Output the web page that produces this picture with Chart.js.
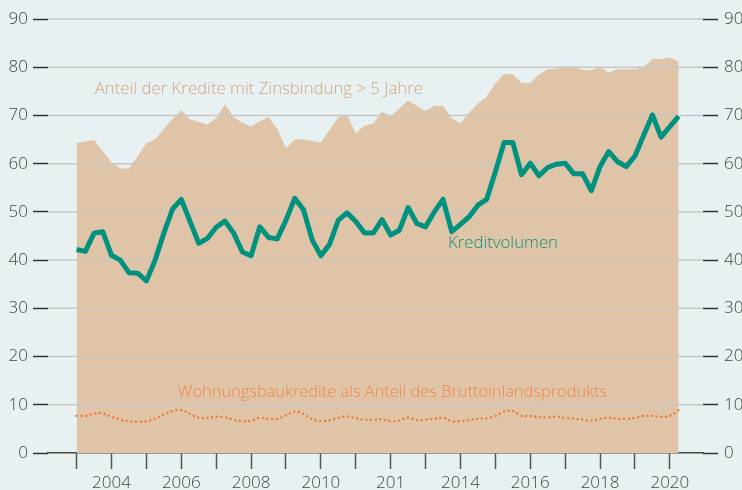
<!DOCTYPE html>
<html lang="de">
<head>
<meta charset="utf-8">
<title>Kredite</title>
<script src="https://cdn.jsdelivr.net/npm/chart.js@4.4.1/dist/chart.umd.min.js"></script>
<style>
  body { margin: 0; background: #e8f1f2; }
  #contenedor { position: relative; width: 742px; height: 490px; }
</style>
</head>
<body>
<div id="contenedor"><canvas id="grafico"></canvas></div>
<script>
// Datos trimestrales, 2003 T1 hasta 2020 T2
const anioInicio = 2003;

const anteilZinsbindung = [
  64.3, 64.6, 64.9, 62.6, 60.3, 59.0, 59.0, 61.5, 64.3, 65.0,
  67.2, 69.3, 71.1, 69.2, 68.7, 68.1, 69.4, 72.3, 69.6, 68.5,
  67.7, 68.8, 69.6, 67.2, 63.2, 65.0, 65.0, 64.7, 64.4, 67.0,
  69.6, 70.1, 66.3, 67.9, 68.3, 70.8, 69.8, 71.5, 73.1, 72.0,
  70.9, 72.0, 72.0, 69.4, 68.4, 70.6, 72.5, 73.9, 76.7, 78.6,
  78.5, 76.8, 76.7, 78.5, 79.6, 79.7, 80.2, 80.1, 79.4, 79.4,
  80.0, 78.9, 79.6, 79.6, 79.6, 80.0, 81.7, 81.7, 82.0, 81.2
];

const kreditvolumen = [
  42.2, 41.8, 45.6, 45.9, 41.0, 40.0, 37.4, 37.3, 35.7, 40.0,
  45.6, 50.6, 52.6, 48.0, 43.5, 44.5, 46.8, 48.1, 45.6, 41.7,
  40.9, 46.9, 44.7, 44.4, 48.3, 52.8, 50.5, 44.2, 40.9, 43.3,
  48.3, 49.8, 48.0, 45.6, 45.6, 48.4, 45.2, 46.2, 50.9, 47.6,
  46.9, 50.0, 52.6, 45.9, 47.4, 49.0, 51.4, 52.6, 58.3, 64.4,
  64.4, 57.7, 60.1, 57.5, 59.2, 59.9, 60.1, 57.9, 57.9, 54.4,
  59.4, 62.5, 60.4, 59.4, 61.6, 65.9, 70.1, 65.5, 67.7, 69.8
];

const wohnungsbauBip = [
  7.7, 7.7, 8.2, 8.2, 7.5, 6.9, 6.6, 6.5, 6.6, 7.1,
  8.0, 8.7, 8.9, 8.1, 7.3, 7.3, 7.5, 7.4, 6.9, 6.6,
  6.7, 7.3, 7.1, 7.1, 7.8, 8.6, 8.1, 7.0, 6.6, 6.8,
  7.3, 7.6, 7.2, 6.9, 6.9, 7.0, 6.6, 6.8, 7.3, 6.8,
  6.9, 7.1, 7.3, 6.6, 6.6, 6.8, 7.1, 7.2, 7.7, 8.6,
  8.7, 7.7, 7.7, 7.4, 7.4, 7.5, 7.3, 7.1, 6.9, 6.7,
  7.1, 7.3, 7.1, 7.1, 7.3, 7.7, 7.7, 7.5, 7.7, 8.9
];

// Marcas del eje x (una por año) y sus etiquetas
const aniosMarcas = [2003, 2004, 2005, 2006, 2007, 2008, 2009, 2010, 2011,
  2012, 2013, 2014, 2015, 2016, 2017, 2018, 2019, 2020];
const aniosEtiquetas = [2004, 2006, 2008, 2010, 2012, 2014, 2016, 2018, 2020];
const textosEtiquetas = ["2004", "2006", "2008", "2010", "201", "2014", "2016", "2018", "2020"];
const valoresEjeY = [0, 10, 20, 30, 40, 50, 60, 70, 80, 90];

function aPuntos(serie) {
  return serie.map((v, i) => ({ x: anioInicio + i / 4, y: v }));
}

const fuente = "'Open Sans', 'DejaVu Sans', sans-serif";

// Líneas de la cuadrícula encima del área
const pluginCuadricula = {
  id: "cuadricula",
  afterDatasetDraw(chart, args) {
    if (args.index !== 0) return;
    const { ctx, chartArea, scales } = chart;
    ctx.save();
    ctx.strokeStyle = "#c6c7c7";
    ctx.lineWidth = 1.5;
    valoresEjeY.forEach((v) => {
      if (v === 0) return;
      const y = scales.y.getPixelForValue(v);
      ctx.beginPath();
      ctx.moveTo(chartArea.left, y);
      ctx.lineTo(chartArea.right, y);
      ctx.stroke();
    });
    ctx.restore();
  }
};

// Textos dentro del gráfico
const pluginTextos = {
  id: "textos",
  afterDatasetsDraw(chart) {
    const { ctx, scales } = chart;
    const textos = [
      { t: "Anteil der Kredite mit Zinsbindung > 5 Jahre", x: 2003.52, y: 75.5, c: "#d3a67e", s: 16.8 },
      { t: "Kreditvolumen", x: 2013.64, y: 43.5, c: "#12917f", s: 16.8 },
      { t: "Wohnungsbaukredite als Anteil des Bruttoinlandsprodukts", x: 2005.9, y: 12.6, c: "#f0874a", s: 16.4 }
    ];
    ctx.save();
    ctx.textBaseline = "middle";
    ctx.textAlign = "left";
    textos.forEach((o) => {
      ctx.font = "300 " + o.s + "px " + fuente;
      ctx.fillStyle = o.c;
      ctx.fillText(o.t, scales.x.getPixelForValue(o.x), scales.y.getPixelForValue(o.y));
    });
    ctx.restore();
  }
};

const ctx = document.getElementById("grafico").getContext("2d");
const grafico = new Chart(ctx, {
  type: "line",
  data: {
    datasets: [
      {
        label: "Anteil der Kredite mit Zinsbindung > 5 Jahre",
        data: aPuntos(anteilZinsbindung),
        backgroundColor: "#dfc4a7",
        borderWidth: 0,
        pointRadius: 0,
        fill: "origin",
        order: 3
      },
      {
        label: "Kreditvolumen",
        data: aPuntos(kreditvolumen),
        borderColor: "#00917f",
        borderWidth: 5,
        borderJoinStyle: "round",
        pointRadius: 0,
        fill: false,
        order: 2
      },
      {
        label: "Wohnungsbaukredite als Anteil des Bruttoinlandsprodukts",
        data: aPuntos(wohnungsbauBip),
        borderColor: "#f07a32",
        borderWidth: 2.4,
        borderDash: [0.1, 4.6],
        borderCapStyle: "round",
        tension: 0.4,
        pointRadius: 0,
        fill: false,
        order: 1
      }
    ]
  },
  options: {
    responsive: true,
    maintainAspectRatio: false,
    animation: false,
    layout: { padding: { top: 19, left: 0, right: 0, bottom: 0 } },
    plugins: {
      legend: { display: false },
      tooltip: { enabled: false }
    },
    scales: {
      x: {
        type: "linear",
        position: "bottom",
        min: 2002.18,
        max: 2020.95,
        afterBuildTicks: (s) => { s.ticks = aniosMarcas.map((v) => ({ value: v })); },
        afterFit: (s) => { s.height = 37; },
        ticks: {
          autoSkip: false,
          maxRotation: 0,
          padding: 4,
          color: "#444",
          font: { family: fuente, size: 17, weight: 300 },
          callback: (v) => {
            const k = aniosEtiquetas.indexOf(v);
            return k >= 0 ? textosEtiquetas[k] : "";
          }
        },
        grid: {
          drawOnChartArea: false,
          drawTicks: true,
          tickLength: 16,
          tickColor: "#555",
          tickWidth: 1.5
        },
        border: { display: true, color: "#444", width: 1.5 }
      },
      y: {
        position: "left",
        min: 0,
        max: 90,
        afterBuildTicks: (s) => { s.ticks = valoresEjeY.map((v) => ({ value: v })); },
        afterFit: (s) => { s.width = 48; },
        ticks: {
          padding: 5,
          color: "#444",
          font: { family: fuente, size: 17, weight: 300 }
        },
        grid: {
          drawOnChartArea: false,
          tickLength: 15,
          tickColor: "#333",
          tickWidth: 1.5
        },
        border: { display: false }
      },
      y2: {
        position: "right",
        min: 0,
        max: 90,
        afterBuildTicks: (s) => { s.ticks = valoresEjeY.map((v) => ({ value: v })); },
        afterFit: (s) => { s.width = 39; },
        ticks: {
          padding: 6,
          color: "#444",
          font: { family: fuente, size: 17, weight: 300 }
        },
        grid: {
          drawOnChartArea: false,
          tickLength: 15,
          tickColor: "#333",
          tickWidth: 1.5
        },
        border: { display: false }
      }
    }
  },
  plugins: [pluginCuadricula, pluginTextos]
});
</script>
</body>
</html>
